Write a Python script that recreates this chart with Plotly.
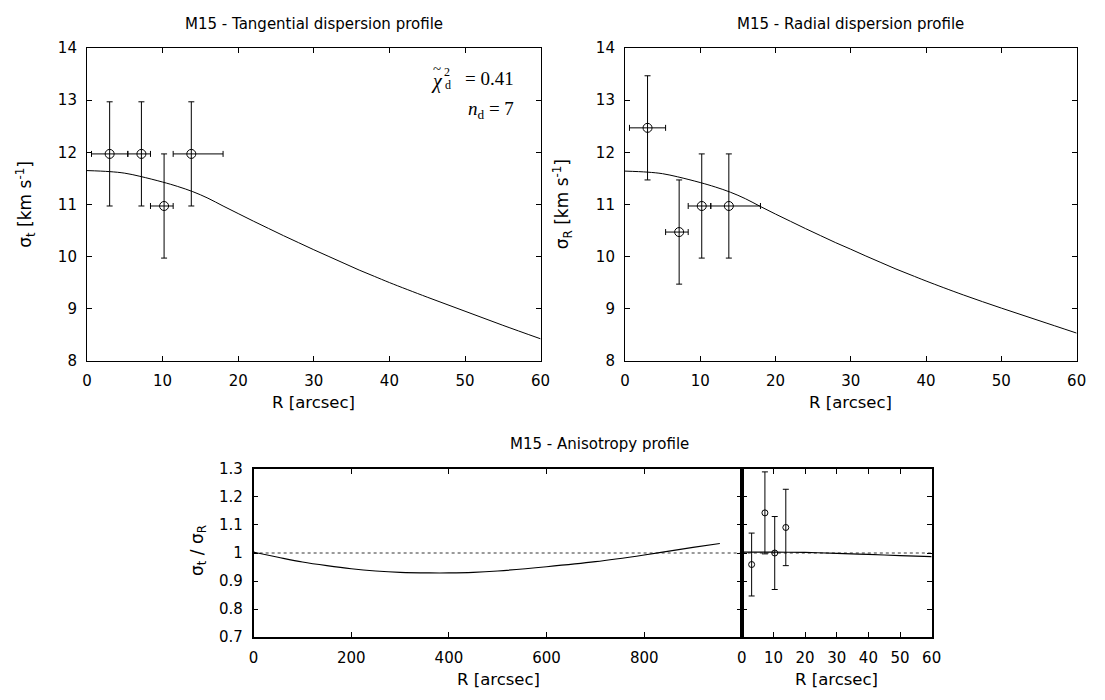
import plotly.graph_objects as go

# ---------------- data ----------------
# Tangential dispersion data points
tan_R = [3.0, 7.2, 10.2, 13.8]
tan_R_lo = [2.4, 1.8, 1.8, 2.4]
tan_R_hi = [2.4, 1.2, 1.2, 4.2]
tan_sig = [11.97, 11.97, 10.97, 11.97]
tan_err = [1.0, 1.0, 1.0, 1.0]

# Radial dispersion data points
rad_R = [3.0, 7.2, 10.2, 13.8]
rad_R_lo = [2.4, 1.8, 1.8, 2.4]
rad_R_hi = [2.4, 1.2, 1.2, 4.2]
rad_sig = [12.47, 10.47, 10.97, 10.97]
rad_err = [1.0, 1.0, 1.0, 1.0]

# Model curves (top panels)
model_R = [0, 3, 5, 7, 10, 12, 14, 16, 18, 20, 22, 24, 26, 28, 30, 32, 34, 36, 38, 40, 45, 50, 55, 60]
model_tan = [11.65, 11.63, 11.60, 11.54, 11.43, 11.345, 11.245, 11.12, 10.97, 10.825, 10.68, 10.54,
             10.40, 10.265, 10.13, 10.00, 9.87, 9.74, 9.62, 9.50, 9.22, 8.95, 8.68, 8.42]
model_rad = [11.64, 11.62, 11.59, 11.53, 11.42, 11.335, 11.235, 11.11, 10.96, 10.815, 10.675, 10.535,
             10.40, 10.265, 10.14, 10.01, 9.885, 9.76, 9.645, 9.53, 9.26, 9.01, 8.77, 8.53]

# Anisotropy profile: model over wide range
aniso_R_wide = [0, 50, 100, 150, 200, 250, 300, 360, 400, 450, 500, 600, 700, 800, 900, 955]
aniso_wide = [1.003, 0.985, 0.968, 0.955, 0.944, 0.936, 0.931, 0.929, 0.929, 0.931,
              0.936, 0.951, 0.969, 0.993, 1.020, 1.034]
# Anisotropy model over inner range
aniso_R_inner = [0, 10, 20, 30, 40, 50, 60]
aniso_inner = [1.003, 1.003, 1.002, 0.999, 0.995, 0.991, 0.987]
# Anisotropy data
ratio_R = [3.1, 7.3, 10.4, 13.9]
ratio = [0.959, 1.143, 1.000, 1.091]
ratio_err = [0.112, 0.146, 0.130, 0.136]

# ---------------- layout helpers ----------------
# The page body keeps its default 8px margin, so the figure is 16px smaller
# than the window and positions are given in window pixels minus 8.
PAGE_W, PAGE_H = 1105, 700
OFF = 8
W, H = PAGE_W - 2 * OFF, PAGE_H - 2 * OFF


def fx(px):
    return (px - OFF) / W


def fy(py):
    return 1 - (py - OFF) / H


def px_x(a, b):
    return [fx(a), fx(b)]


def px_y(top, bottom):
    return [fy(bottom), fy(top)]


FONT = "DejaVu Sans"
SERIF = "Liberation Serif"
BLACK = "black"

fig = go.Figure()

err_style = dict(type="data", color=BLACK, thickness=1, width=3)
marker_big = dict(symbol="circle-open", size=9, color=BLACK, line=dict(width=1, color=BLACK))
marker_small = dict(symbol="circle-open", size=6, color=BLACK, line=dict(width=1, color=BLACK))

# Top-left: tangential
fig.add_trace(go.Scatter(x=model_R, y=model_tan, mode="lines", line=dict(color=BLACK, width=1, shape="spline"),
                         xaxis="x", yaxis="y", showlegend=False, hoverinfo="skip"))
fig.add_trace(go.Scatter(x=tan_R, y=tan_sig, mode="markers", marker=marker_big,
                         error_y=dict(array=tan_err, **err_style),
                         error_x=dict(array=tan_R_hi, arrayminus=tan_R_lo, symmetric=False, **err_style),
                         xaxis="x", yaxis="y", showlegend=False))

# Top-right: radial
fig.add_trace(go.Scatter(x=model_R, y=model_rad, mode="lines", line=dict(color=BLACK, width=1, shape="spline"),
                         xaxis="x2", yaxis="y2", showlegend=False, hoverinfo="skip"))
fig.add_trace(go.Scatter(x=rad_R, y=rad_sig, mode="markers", marker=marker_big,
                         error_y=dict(array=rad_err, **err_style),
                         error_x=dict(array=rad_R_hi, arrayminus=rad_R_lo, symmetric=False, **err_style),
                         xaxis="x2", yaxis="y2", showlegend=False))

# Bottom-left: anisotropy wide
fig.add_trace(go.Scatter(x=[0, 1000], y=[1, 1], mode="lines", line=dict(color=BLACK, width=0.8, dash="dot"),
                         xaxis="x3", yaxis="y3", showlegend=False, hoverinfo="skip"))
fig.add_trace(go.Scatter(x=aniso_R_wide, y=aniso_wide, mode="lines", line=dict(color=BLACK, width=1.2, shape="spline"),
                         xaxis="x3", yaxis="y3", showlegend=False, hoverinfo="skip"))

# Bottom-right: anisotropy inner
fig.add_trace(go.Scatter(x=[0, 60], y=[1, 1], mode="lines", line=dict(color=BLACK, width=0.8, dash="dot"),
                         xaxis="x4", yaxis="y4", showlegend=False, hoverinfo="skip"))
fig.add_trace(go.Scatter(x=aniso_R_inner, y=aniso_inner, mode="lines", line=dict(color=BLACK, width=1.2, shape="spline"),
                         xaxis="x4", yaxis="y4", showlegend=False, hoverinfo="skip"))
fig.add_trace(go.Scatter(x=ratio_R, y=ratio, mode="markers", marker=marker_small,
                         error_y=dict(array=ratio_err, **err_style),
                         xaxis="x4", yaxis="y4", showlegend=False))

axis_common = dict(showgrid=False, zeroline=False, showline=True, linecolor=BLACK, linewidth=1,
                   mirror="allticks", ticks="inside", ticklen=5, tickcolor=BLACK, tickwidth=1,
                   tickfont=dict(family=FONT, size=15, color=BLACK), fixedrange=True)
xcommon = dict(ticklabelstandoff=6, **axis_common)
ycommon = dict(ticklabelstandoff=6, **axis_common)

top_y = px_y(40, 361)
bot_y = px_y(472, 645)

fig.update_layout(
    width=W, height=H,
    margin=dict(l=0, r=0, t=0, b=0),
    paper_bgcolor="white", plot_bgcolor="white",
    font=dict(family=FONT, color=BLACK),
    xaxis=dict(domain=px_x(83, 543), anchor="y", range=[0, 60], dtick=10, **xcommon),
    yaxis=dict(domain=top_y, anchor="x", range=[8, 14], dtick=1, **ycommon),
    xaxis2=dict(domain=px_x(628.5, 1086.5), anchor="y2", range=[0, 60], dtick=10, **xcommon),
    yaxis2=dict(domain=top_y, anchor="x2", range=[8, 14], dtick=1, **ycommon),
    xaxis3=dict(domain=px_x(252, 747), anchor="y3", range=[0, 1000], tickvals=[0, 200, 400, 600, 800],
                **xcommon),
    yaxis3=dict(domain=bot_y, anchor="x3", range=[0.7, 1.3],
                tickvals=[0.7, 0.8, 0.9, 1.0, 1.1, 1.2, 1.3],
                ticktext=["0.7", "0.8", "0.9", "1", "1.1", "1.2", "1.3"], **ycommon),
    xaxis4=dict(domain=px_x(747, 939.5), anchor="y4", range=[0, 60], dtick=10, **xcommon),
    yaxis4=dict(domain=bot_y, anchor="x4", range=[0.7, 1.3],
                tickvals=[0.7, 0.8, 0.9, 1.0, 1.1, 1.2, 1.3], showticklabels=False, **ycommon),
)

# slightly thicker frame for bottom panels
for ax in ["xaxis3", "yaxis3", "xaxis4", "yaxis4"]:
    fig.layout[ax].linewidth = 1.5
# thick divider between bottom panels
fig.add_shape(type="line", xref="paper", yref="paper", x0=fx(747), x1=fx(747), y0=bot_y[0], y1=bot_y[1],
              line=dict(color=BLACK, width=2))


def ann(text, x, y, size, angle=0, family=FONT, xanchor="center"):
    fig.add_annotation(text=text, x=fx(x), y=fy(y), xref="paper", yref="paper", showarrow=False,
                       textangle=angle, font=dict(family=family, size=size, color=BLACK),
                       xanchor=xanchor, yanchor="middle")


# panel titles
ann("M15 - Tangential dispersion profile", 313, 15, 15)
ann("M15 - Radial dispersion profile", 857.5, 15, 15)
ann("M15 - Anisotropy profile", 603, 447, 15)

# x axis titles
ann("R [arcsec]", 313, 404, 16.5)
ann("R [arcsec]", 857.5, 404, 16.5)
ann("R [arcsec]", 500, 688, 16.5)
ann("R [arcsec]", 843, 688, 16.5)

# y axis titles
ann("σ<sub>t</sub> [km s<sup>-1</sup>]", 21, 200, 17, angle=-90)
ann("σ<sub>R</sub> [km s<sup>-1</sup>]", 566, 200, 17, angle=-90)
ann("σ<sub>t</sub> / σ<sub>R</sub>", 196, 556, 17, angle=-90)

# fit statistics (reduced chi-square with stacked super/subscript)
ann("= 0.41", 518, 71, 19, family=SERIF, xanchor="right")
ann("<i>χ</i>", 438, 74, 20, family=SERIF)
ann("~", 438, 61, 15, family=SERIF)
ann("2", 448, 64, 12, family=SERIF)
ann("d", 449, 78, 12, family=SERIF)
ann("<i>n</i><sub>d</sub> = 7", 518, 104, 19, family=SERIF, xanchor="right")

fig.write_html("out.html", config={"responsive": False, "displayModeBar": False})
